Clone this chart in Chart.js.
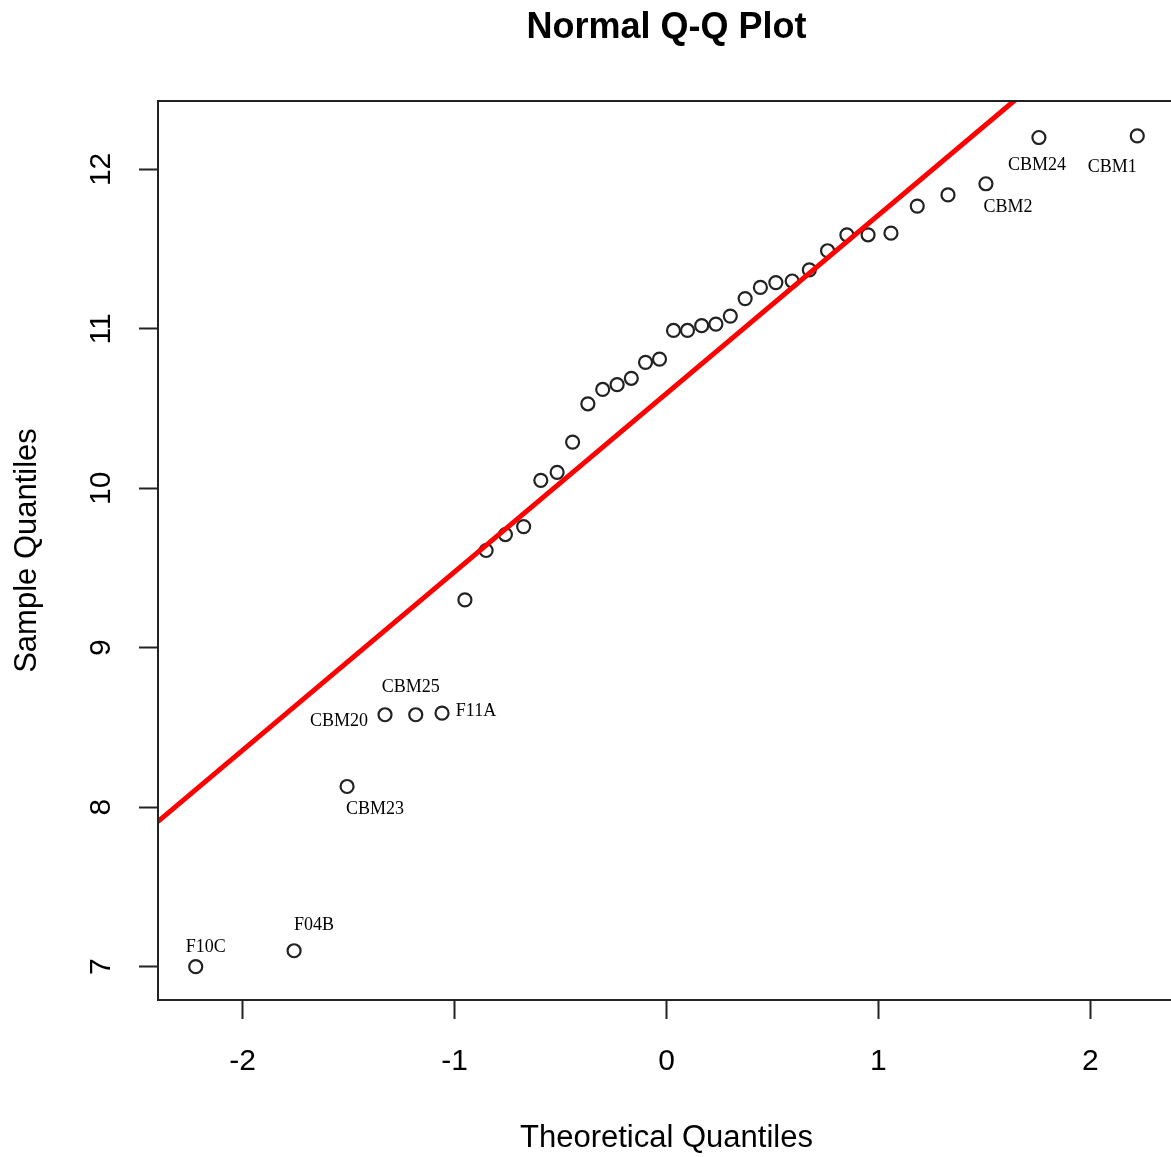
<!DOCTYPE html>
<html>
<head>
<meta charset="utf-8">
<title>Normal Q-Q Plot</title>
<script src="https://cdn.jsdelivr.net/npm/chart.js@4.4.1/dist/chart.umd.min.js"></script>
<style>
    html, body { margin: 0; padding: 0; background: #fff; overflow: hidden; }
    #wrap { width: 1190px; height: 1157px; }
</style>
</head>
<body>
<div id="wrap"><canvas id="qqChart" width="1190" height="1157"></canvas></div>
<script>
// Données
const theoQ = [-2.221, -1.757, -1.507, -1.328, -1.183, -1.059, -0.951, -0.851, -0.760, -0.674,
    -0.593, -0.516, -0.443, -0.371, -0.301, -0.233, -0.166, -0.099, -0.033,
    0.033, 0.099, 0.166, 0.233, 0.301, 0.371, 0.443, 0.516, 0.593, 0.674,
    0.760, 0.851, 0.951, 1.059, 1.183, 1.328, 1.507, 1.757, 2.221];
const sampleQ = [7.00, 7.10, 8.13, 8.58, 8.58, 8.59, 9.30, 9.61, 9.71, 9.76,
    10.05, 10.10, 10.29, 10.53, 10.62, 10.65, 10.69, 10.79, 10.81,
    10.99, 10.99, 11.02, 11.03, 11.08, 11.19, 11.26, 11.29, 11.30, 11.37,
    11.49, 11.59, 11.59, 11.60, 11.77, 11.84, 11.91, 12.20, 12.21];

// Droite de référence (qqline), extrémités lues
const lineX = [-2.4, 2.4];
const lineY = [7.91, 13.28];

// Etiquettes des points
const labelIdx = [0, 1, 2, 3, 4, 5, 35, 36, 37];
const labelText = ['F10C', 'F04B', 'CBM23', 'CBM20', 'CBM25', 'F11A', 'CBM2', 'CBM24', 'CBM1'];

const xTicks = [-2, -1, 0, 1, 2];
const yTicks = [7, 8, 9, 10, 11, 12];

// Décalages des étiquettes (px)
const labelDx = [10, 20, 28, -46, -5, 34, 22, -2, -25];
const labelDy = [-19, -25, 23, 7, -27, -2, 24, 28, 31];

const AXIS_FONT = '"Liberation Sans", Arial, sans-serif';

const extrasPlugin = {
    id: 'extras',
    afterDraw(chart) {
        const ctx = chart.ctx;
        const area = chart.chartArea;
        const xs = chart.scales.x;
        const ys = chart.scales.y;
        ctx.save();

        // cadre
        ctx.strokeStyle = '#222';
        ctx.lineWidth = 2;
        ctx.strokeRect(area.left, area.top, area.right - area.left, area.bottom - area.top);

        // titre
        ctx.fillStyle = '#000';
        ctx.font = 'bold 36px ' + AXIS_FONT;
        ctx.textAlign = 'center';
        ctx.textBaseline = 'alphabetic';
        ctx.fillText('Normal Q-Q Plot', (area.left + area.right) / 2, 38);

        // graduations y (verticales)
        ctx.font = '30px ' + AXIS_FONT;
        ctx.textBaseline = 'middle';
        yTicks.forEach(v => {
            const py = ys.getPixelForValue(v);
            ctx.save();
            ctx.translate(102, py);
            ctx.rotate(-Math.PI / 2);
            ctx.fillText(String(v), 0, 0);
            ctx.restore();
        });

        // étiquettes des points
        ctx.font = '18px "Liberation Serif", "Times New Roman", serif';
        labelIdx.forEach((idx, k) => {
            const px = xs.getPixelForValue(theoQ[idx]);
            const py = ys.getPixelForValue(sampleQ[idx]);
            ctx.fillText(labelText[k], px + labelDx[k], py + labelDy[k]);
        });
        ctx.restore();
    }
};

const points = theoQ.map((q, i) => ({ x: q, y: sampleQ[i] }));
const refLine = lineX.map((x, i) => ({ x: x, y: lineY[i] }));

new Chart(document.getElementById('qqChart').getContext('2d'), {
    type: 'scatter',
    data: {
        datasets: [{
            type: 'line',
            data: refLine,
            borderColor: '#ff0000',
            borderWidth: 5,
            pointRadius: 0,
            showLine: true,
            fill: false,
            clip: 0
        }, {
            data: points,
            pointStyle: 'circle',
            pointRadius: 6.5,
            pointBorderWidth: 2.2,
            pointBorderColor: '#222',
            pointBackgroundColor: 'rgba(0,0,0,0)'
        }]
    },
    options: {
        responsive: false,
        animation: false,
        layout: { padding: { top: 101, right: 15, left: 0, bottom: 0 } },
        plugins: { legend: { display: false }, tooltip: { enabled: false } },
        scales: {
            x: {
                type: 'linear',
                min: -2.399,
                max: 2.399,
                afterBuildTicks: scale => { scale.ticks = xTicks.map(v => ({ value: v })); },
                afterFit: scale => { scale.height = 157; },
                ticks: {
                    font: { size: 30, family: AXIS_FONT },
                    color: '#000',
                    padding: 25,
                    maxRotation: 0,
                    autoSkip: false
                },
                grid: { drawOnChartArea: false, drawTicks: true, tickLength: 19, tickWidth: 2, tickColor: '#222' },
                border: { display: false },
                title: {
                    display: true,
                    text: 'Theoretical Quantiles',
                    color: '#000',
                    font: { size: 31, family: AXIS_FONT },
                    padding: { top: 0, bottom: 0 }
                }
            },
            y: {
                type: 'linear',
                min: 6.791,
                max: 12.429,
                afterBuildTicks: scale => { scale.ticks = yTicks.map(v => ({ value: v })); },
                afterFit: scale => { scale.width = 158; },
                ticks: { color: 'rgba(0,0,0,0)', font: { size: 30, family: AXIS_FONT } },
                grid: { drawOnChartArea: false, drawTicks: true, tickLength: 19, tickWidth: 2, tickColor: '#222' },
                border: { display: false },
                title: {
                    display: true,
                    text: 'Sample Quantiles',
                    color: '#000',
                    font: { size: 31, family: AXIS_FONT },
                    padding: 9
                }
            }
        }
    },
    plugins: [extrasPlugin]
});
</script>
</body>
</html>
